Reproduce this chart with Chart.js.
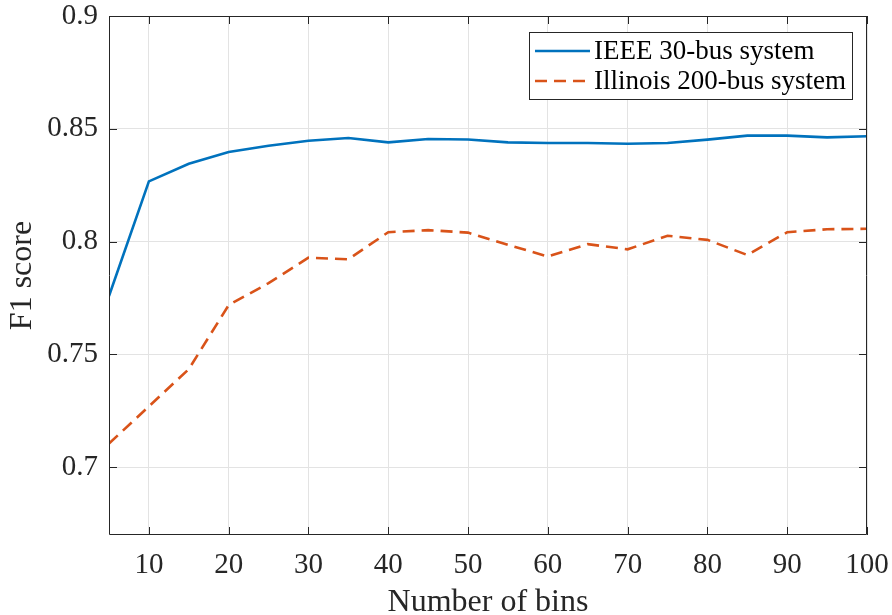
<!DOCTYPE html>
<html>
<head>
<meta charset="utf-8">
<script src="https://cdn.jsdelivr.net/npm/chart.js@4.4.1/dist/chart.umd.min.js"></script>
<style>
  html, body { margin: 0; padding: 0; background: #ffffff; }
  #wrap { width: 892px; height: 615px; position: relative; }
</style>
</head>
<body>
<div id="wrap"><canvas id="c" width="892" height="615"></canvas></div>
<script>
// ---- data ----
const bins = [5, 10, 15, 20, 25, 30, 35, 40, 45, 50, 55, 60, 65, 70, 75, 80, 85, 90, 95, 100];
const ieee30 = [0.7759, 0.8267, 0.8345, 0.8397, 0.8425, 0.8447, 0.8459, 0.8440, 0.8455, 0.8453,
                0.8440, 0.8437, 0.8437, 0.8434, 0.8437, 0.8452, 0.8470, 0.8470, 0.8462, 0.8467];
const illinois200 = [0.7105, 0.7270, 0.7435, 0.7719, 0.7816, 0.7929, 0.7922, 0.8042, 0.8051, 0.8040,
                     0.7986, 0.7934, 0.7989, 0.7966, 0.8026, 0.8008, 0.7941, 0.8042, 0.8055, 0.8057];
const seriesNames = ['IEEE 30-bus system', 'Illinois 200-bus system'];
const xTicks = [10, 20, 30, 40, 50, 60, 70, 80, 90, 100];
const yTicks = [0.7, 0.75, 0.8, 0.85, 0.9];
const yTickLabels = ['0.7', '0.75', '0.8', '0.85', '0.9'];
const xTitle = 'Number of bins';
const yTitle = 'F1 score';

const FONT = '"Liberation Serif", "Times New Roman", serif';
const AXIS_COLOR = '#262626';

const frame = {
  id: 'frame',
  afterDatasetsDraw(chart) {
    const {ctx, chartArea: a, scales} = chart;
    ctx.save();
    // box
    ctx.strokeStyle = AXIS_COLOR;
    ctx.lineWidth = 1;
    ctx.beginPath();
    ctx.moveTo(a.left + 0.5, a.top + 0.5);
    ctx.lineTo(a.right - 0.5, a.top + 0.5);
    ctx.lineTo(a.right - 0.5, a.bottom - 0.5);
    ctx.lineTo(a.left + 0.5, a.bottom - 0.5);
    ctx.closePath();
    ctx.stroke();
    // inward ticks
    const L = 8;
    ctx.beginPath();
    xTicks.forEach(v => {
      const px = Math.round(scales.x.getPixelForValue(v)) + 0.5;
      ctx.moveTo(px, a.bottom); ctx.lineTo(px, a.bottom - L);
      ctx.moveTo(px, a.top); ctx.lineTo(px, a.top + L);
    });
    yTicks.forEach(v => {
      const py = Math.round(scales.y.getPixelForValue(v)) + 0.5;
      ctx.moveTo(a.left, py); ctx.lineTo(a.left + L, py);
      ctx.moveTo(a.right, py); ctx.lineTo(a.right - L, py);
    });
    ctx.stroke();

    // legend
    const ds = chart.data.datasets;
    ctx.font = '27px ' + FONT;
    const textW = Math.max(...ds.map(d => ctx.measureText(d.label).width));
    const padL = 6, sample = 55, gap = 4, padR = 6;
    const boxW = padL + sample + gap + textW + padR;
    const boxRight = a.right - 15;
    const boxLeft = boxRight - boxW;
    const boxTop = a.top + 16;
    const rowH = 30;
    const boxH = rowH * ds.length + 7;
    ctx.fillStyle = '#ffffff';
    ctx.fillRect(boxLeft, boxTop, boxW, boxH);
    ctx.strokeStyle = AXIS_COLOR;
    ctx.lineWidth = 1;
    ctx.strokeRect(Math.round(boxLeft) + 0.5, Math.round(boxTop) + 0.5, Math.round(boxW), Math.round(boxH));
    ds.forEach((d, i) => {
      const cy = boxTop + 4 + rowH * i + rowH / 2;
      ctx.strokeStyle = d.borderColor;
      ctx.lineWidth = d.borderWidth;
      ctx.setLineDash(d.borderDash || []);
      ctx.beginPath();
      ctx.moveTo(boxLeft + padL, cy);
      ctx.lineTo(boxLeft + padL + sample, cy);
      ctx.stroke();
      ctx.setLineDash([]);
      ctx.fillStyle = '#000000';
      ctx.textBaseline = 'middle';
      ctx.textAlign = 'left';
      ctx.fillText(d.label, boxLeft + padL + sample + gap, cy + 1);
    });
    ctx.restore();
  }
};

new Chart(document.getElementById('c'), {
  type: 'line',
  data: {
    datasets: [
      {
        label: seriesNames[0],
        data: bins.map((b, i) => ({x: b, y: ieee30[i]})),
        borderColor: '#0072BD',
        borderWidth: 2.6,
        pointRadius: 0,
        pointHoverRadius: 0,
        tension: 0,
        fill: false
      },
      {
        label: seriesNames[1],
        data: bins.map((b, i) => ({x: b, y: illinois200[i]})),
        borderColor: '#D95319',
        borderWidth: 2.6,
        borderDash: [12, 7],
        pointRadius: 0,
        pointHoverRadius: 0,
        tension: 0,
        fill: false
      }
    ]
  },
  options: {
    responsive: false,
    animation: false,
    devicePixelRatio: 1,
    layout: { autoPadding: false, padding: { left: 0, top: 16, right: 25, bottom: 0 } },
    plugins: { legend: { display: false }, tooltip: { enabled: false } },
    scales: {
      x: {
        type: 'linear',
        min: 5,
        max: 100,
        afterBuildTicks(axis) { axis.ticks = xTicks.map(v => ({value: v})); },
        afterFit(scale) {
          scale.height = 80;
          scale.paddingLeft = 0; scale.paddingRight = 0;
          scale.paddingTop = 0; scale.paddingBottom = 0;
        },
        grid: { color: '#e3e3e3', lineWidth: 1, drawTicks: false },
        border: { display: false },
        ticks: {
          color: AXIS_COLOR,
          font: { family: FONT, size: 29, lineHeight: 1 },
          padding: 16,
          maxRotation: 0,
          autoSkip: false,
          callback: v => String(v)
        },
        title: {
          display: true,
          text: xTitle,
          color: AXIS_COLOR,
          font: { family: FONT, size: 32, lineHeight: 0.8 },
          padding: 0
        }
      },
      y: {
        type: 'linear',
        min: 0.67,
        max: 0.9,
        afterBuildTicks(axis) { axis.ticks = yTicks.map(v => ({value: v})); },
        afterFit(scale) {
          scale.width = 109;
          scale.paddingLeft = 0; scale.paddingRight = 0;
          scale.paddingTop = 0; scale.paddingBottom = 0;
        },
        grid: { color: '#e3e3e3', lineWidth: 1, drawTicks: false },
        border: { display: false },
        ticks: {
          color: AXIS_COLOR,
          font: { family: FONT, size: 29, lineHeight: 1 },
          padding: 11,
          autoSkip: false,
          callback: (v) => {
            const i = yTicks.findIndex(t => Math.abs(t - v) < 1e-9);
            return i >= 0 ? yTickLabels[i] : '';
          }
        },
        title: {
          display: true,
          text: yTitle,
          color: AXIS_COLOR,
          font: { family: FONT, size: 32, lineHeight: 1 },
          padding: { top: 7, bottom: 0 }
        }
      }
    }
  },
  plugins: [frame]
});
</script>
</body>
</html>
